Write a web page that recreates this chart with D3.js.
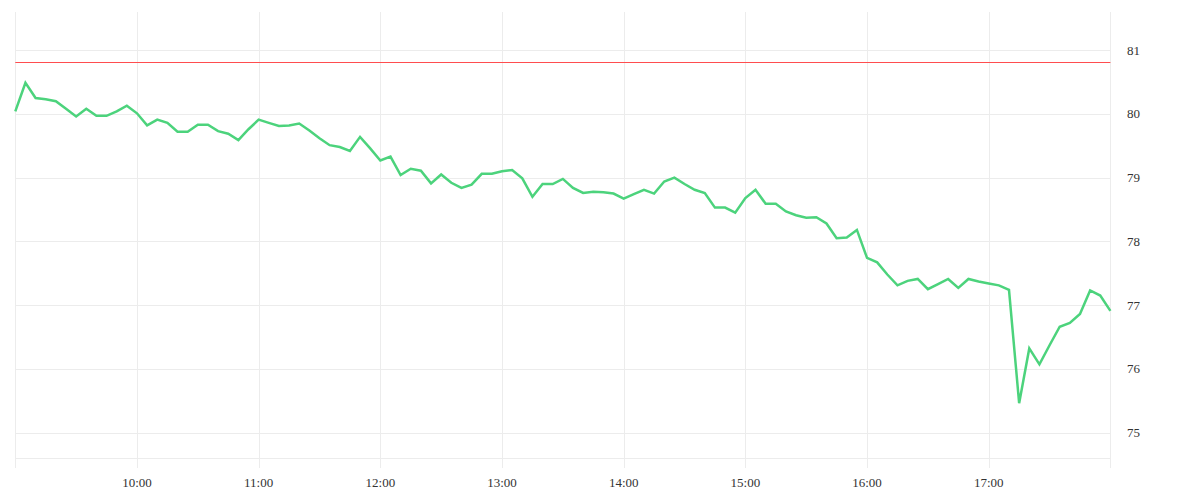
<!DOCTYPE html>
<html>
<head>
<meta charset="utf-8">
<script src="https://cdn.jsdelivr.net/npm/d3@7"></script>
<style>
  html, body { margin: 0; padding: 0; background: #ffffff; }
  svg { display: block; }
  .tick-label { font-family: "Liberation Serif", "Times New Roman", serif; font-size: 13px; fill: #333333; }
</style>
</head>
<body>
<svg id="chart" width="1200" height="500"></svg>
<script>
// ---- data ----
const times = [
  "09:00","09:05","09:10","09:15","09:20","09:25","09:30","09:35","09:40","09:45","09:50","09:55",
  "10:00","10:05","10:10","10:15","10:20","10:25","10:30","10:35","10:40","10:45","10:50","10:55",
  "11:00","11:05","11:10","11:15","11:20","11:25","11:30","11:35","11:40","11:45","11:50","11:55",
  "12:00","12:05","12:10","12:15","12:20","12:25","12:30","12:35","12:40","12:45","12:50","12:55",
  "13:00","13:05","13:10","13:15","13:20","13:25","13:30","13:35","13:40","13:45","13:50","13:55",
  "14:00","14:05","14:10","14:15","14:20","14:25","14:30","14:35","14:40","14:45","14:50","14:55",
  "15:00","15:05","15:10","15:15","15:20","15:25","15:30","15:35","15:40","15:45","15:50","15:55",
  "16:00","16:05","16:10","16:15","16:20","16:25","16:30","16:35","16:40","16:45","16:50","16:55",
  "17:00","17:05","17:10","17:15","17:20","17:25","17:30","17:35","17:40","17:45","17:50","17:55",
  "18:00"
];
const prices = [
  80.04,80.49,80.25,80.23,80.20,80.08,79.96,80.08,79.97,79.97,80.04,80.13,
  80.01,79.82,79.91,79.86,79.72,79.72,79.83,79.83,79.73,79.69,79.59,79.76,
  79.91,79.86,79.81,79.82,79.85,79.74,79.62,79.51,79.48,79.42,79.64,79.46,
  79.27,79.33,79.04,79.14,79.11,78.91,79.05,78.92,78.84,78.89,79.06,79.06,
  79.10,79.12,78.99,78.70,78.90,78.90,78.98,78.84,78.76,78.78,78.77,78.75,
  78.67,78.74,78.81,78.75,78.94,79.00,78.90,78.81,78.76,78.53,78.53,78.45,
  78.68,78.81,78.59,78.59,78.47,78.41,78.37,78.38,78.28,78.05,78.06,78.18,
  77.74,77.67,77.48,77.31,77.38,77.41,77.25,77.33,77.41,77.27,77.41,77.37,
  77.34,77.31,77.24,75.46,76.32,76.07,76.37,76.66,76.72,76.86,77.23,77.15,
  76.91
];
const referenceLevel = 80.8;
const yTicks = [75, 76, 77, 78, 79, 80, 81];
const xTickLabels = ["10:00","11:00","12:00","13:00","14:00","15:00","16:00","17:00"];
const xEdges = ["09:00","18:00"];
const yDomain = [74.6, 81.6];

// ---- layout ----
const plotLeft = 15.3, plotRight = 1110.4, plotTop = 12, plotBottom = 458;
const parse = d3.timeParse("%H:%M");
const svg = d3.select("#chart");

const x = d3.scaleTime()
  .domain([parse(xEdges[0]), parse(xEdges[1])])
  .range([plotLeft, plotRight]);
const y = d3.scaleLinear().domain(yDomain).range([plotBottom, plotTop]);

const gridColor = "#ececec";

// horizontal gridlines
svg.append("g").selectAll("line").data(yTicks).join("line")
  .attr("x1", plotLeft).attr("x2", plotRight)
  .attr("y1", d => Math.round(y(d)) + 0.5).attr("y2", d => Math.round(y(d)) + 0.5)
  .attr("stroke", gridColor).attr("stroke-width", 1);

// bottom axis line
svg.append("line")
  .attr("x1", plotLeft).attr("x2", plotRight)
  .attr("y1", plotBottom + 0.5).attr("y2", plotBottom + 0.5)
  .attr("stroke", gridColor).attr("stroke-width", 1);

// vertical gridlines (hours incl. edges), extending below as ticks
const vLines = xEdges.slice(0, 1).concat(xTickLabels, xEdges.slice(1));
svg.append("g").selectAll("line").data(vLines).join("line")
  .attr("x1", d => Math.round(x(parse(d))) + 0.5).attr("x2", d => Math.round(x(parse(d))) + 0.5)
  .attr("y1", plotTop).attr("y2", plotBottom + 10)
  .attr("stroke", gridColor).attr("stroke-width", 1);

// x labels
svg.append("g").selectAll("text").data(xTickLabels).join("text")
  .attr("class", "tick-label")
  .attr("x", d => x(parse(d)))
  .attr("y", 487)
  .attr("text-anchor", "middle")
  .text(d => d);

// y labels (right side)
svg.append("g").selectAll("text").data(yTicks).join("text")
  .attr("class", "tick-label")
  .attr("x", 1127)
  .attr("y", d => y(d))
  .attr("dy", "0.35em")
  .attr("text-anchor", "start")
  .text(d => d);

// reference line
const refY = Math.round(y(referenceLevel)) - 0.5;
svg.append("line")
  .attr("x1", plotLeft).attr("x2", plotRight)
  .attr("y1", refY).attr("y2", refY)
  .attr("stroke", "#ff4d4f").attr("stroke-width", 1);

// price line
const line = d3.line()
  .x((d, i) => x(parse(times[i])))
  .y(d => y(d));
svg.append("path")
  .datum(prices)
  .attr("d", line)
  .attr("fill", "none")
  .attr("stroke", "#4cd37c")
  .attr("stroke-width", 2.5)
  .attr("stroke-linejoin", "miter");
</script>
</body>
</html>
